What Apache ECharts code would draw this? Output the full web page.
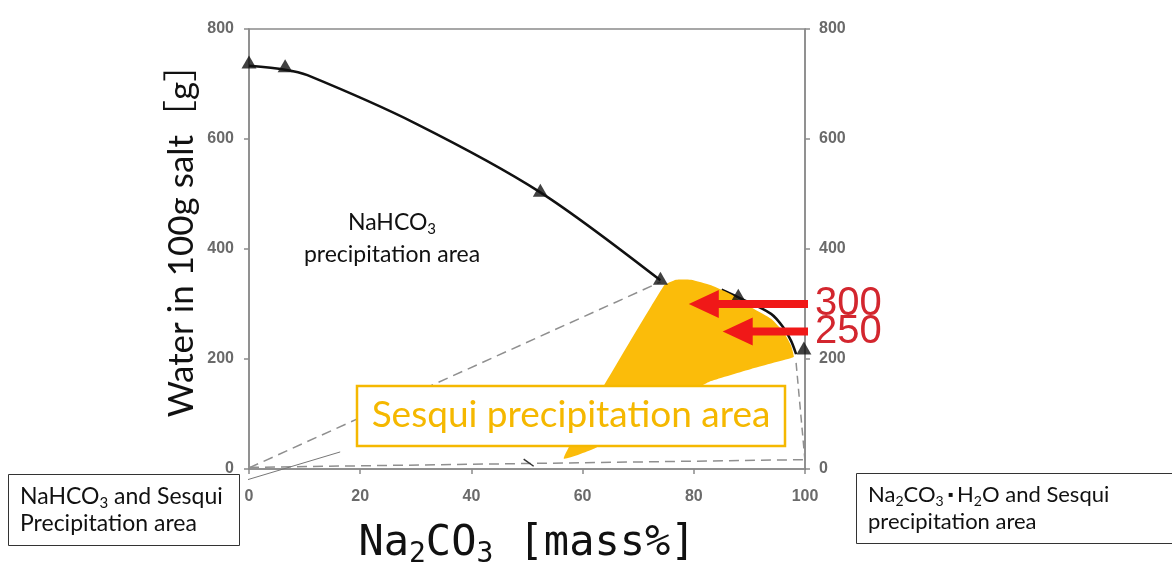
<!DOCTYPE html>
<html>
<head>
<meta charset="utf-8">
<script src="https://cdn.jsdelivr.net/npm/echarts@6/dist/echarts.min.js"></script>
<style>
html,body{margin:0;padding:0;background:#fff;}
#chart{width:1172px;height:570px;}
</style>
</head>
<body>
<div id="chart"></div>
<script>
// values: x = Na2CO3 mass%, y = water in 100g salt [g]
var xTicks = [0, 20, 40, 60, 80, 100];
var yTicks = [0, 200, 400, 600, 800];
// NaHCO3 saturation curve, split where it runs under the sesqui region
var curveUpper = [[0,733],[6.5,726],[10.5,716],[30,628],[52.4,503],[74,343]];
var curveLower = [[85,326],[88,312],[93.9,282],[96.2,256],[97.5,233],[98.4,209]];
var measuredPts = [[0,740],[6.5,733],[52.4,507],[74,347],[88,316],[99.8,220]];
var dashTop = [[0,2],[74,340]];
var dashBottom = [[0,3],[100,17]];
var dashRight = [[98.4,193],[100,15]];
var strayMark = [[49.4,18],[51.2,5]];
var leaderLeft = [[-1.1,-22],[16.4,31]];
var leaderRight = [[100,0],[109.2,-15]];
// sesqui (yellow) region outline
var sesquiArea = [[74.6,333],[76.8,344],[79.5,344],[83.1,334],[87,316],[88.5,304],[93.9,273],[96.2,248],[97.5,224],[98,204],
                  [97.5,202],[90.3,182],[83.1,160],[81.3,151],[70.5,91],[62.3,38],[56.6,20]];
// red arrows
var arrowStartX = [100, 100];
var arrowY = [300, 250];
var arrowTipX = [79.1, 85.2];
var arrowLabels = ['300', '250'];

var gray = '#8a8a8a';
var axisCommon = {
    axisLine:{show:true, lineStyle:{color:gray, width:1.5}},
    axisTick:{show:true, inside:false, length:5, lineStyle:{color:gray, width:1.5}},
    splitLine:{show:false},
    axisLabel:{color:'#6a6a6a', fontSize:16, fontWeight:'bold', fontFamily:'Liberation Sans', margin:12}
};
var txtFont = 'Lato, "Noto Sans CJK JP"';

var option = {
    animation:false,
    backgroundColor:'#fff',
    grid:{left:249, right:367, top:29, bottom:101, show:true, borderColor:gray, borderWidth:1.5,
          containLabel:false, outerBoundsMode:'none'},
    xAxis: $ext(axisCommon, {
        type:'value', min:0, max:100, interval:20,
        axisLabel:{margin:20},
        name:'{n|Na}{s|2}{n|CO}{s|3}{n| [mass%]}',
        nameLocation:'middle', nameGap:50,
        nameTextStyle:{
            rich:{
                n:{fontSize:42, fontFamily:'DejaVu Sans Mono', color:'#111'},
                s:{fontSize:28, fontFamily:'DejaVu Sans Mono', color:'#111', padding:[22,0,0,0]}
            }
        }
    }),
    yAxis: [
        $ext(axisCommon, {type:'value', position:'left', min:0, max:800, interval:200, axisLabel:{margin:15}}),
        $ext(axisCommon, {type:'value', position:'right', min:0, max:800, interval:200, axisLabel:{margin:14}})
    ],
    series: [
        {type:'line', data:dashTop, symbol:'none', z:2, lineStyle:{color:'#8f8f8f', width:1.5, type:[10,6]}},
        {type:'line', data:dashBottom, symbol:'none', z:2, lineStyle:{color:'#8f8f8f', width:1.5, type:[10,6]}},
        {type:'line', data:dashRight, symbol:'none', z:2, lineStyle:{color:'#8f8f8f', width:1.5, type:[8,5]}},
        {type:'line', data:strayMark, symbol:'none', z:2, lineStyle:{color:'#333', width:1.5}},
        {type:'line', data:leaderLeft, symbol:'none', clip:false, z:2, lineStyle:{color:'#777', width:1}},
        {type:'line', data:leaderRight, symbol:'none', clip:false, z:2, lineStyle:{color:'#777', width:1}},
        {type:'line', data:curveUpper, symbol:'none', smooth:0.3, z:3, lineStyle:{color:'#111', width:2.5}},
        {type:'line', data:curveLower, symbol:'none', smooth:0.3, z:3, lineStyle:{color:'#111', width:2.5}},
        {
            type:'custom', z:4, data:[[0]],
            renderItem:function(params, api){
                var pts = sesquiArea.map(function(p){ return api.coord(p); });
                return {type:'polygon', shape:{points:pts, smooth:0.15}, style:{fill:'#fbbc0a'}};
            }
        },
        {type:'scatter', data:measuredPts, symbol:'triangle', symbolSize:[15,13], z:5, itemStyle:{color:'#111'}},
        {
            type:'custom', z:6,
            data: arrowY.map(function(y, i){ return [arrowStartX[i], y, arrowTipX[i]]; }),
            renderItem:function(params, api){
                var y = api.value(1);
                var p0 = api.coord([api.value(0), y]);
                var p1 = api.coord([api.value(2), y]);
                var cy = p0[1], hl = 30, hw = 14, sw = 4;
                return {type:'group', children:[
                    {type:'polygon', shape:{points:[
                        [p0[0]+3, cy-sw],[p1[0]+hl, cy-sw],[p1[0]+hl, cy-hw],[p1[0], cy],
                        [p1[0]+hl, cy+hw],[p1[0]+hl, cy+sw],[p0[0]+3, cy+sw]]},
                     style:{fill:'#f01818'}},
                    {type:'text', x:p0[0]+10, y:cy, style:{text:arrowLabels[params.dataIndex],
                        fontSize:40, fontFamily:'Liberation Sans', fill:'#d3262e', verticalAlign:'middle'}}
                ]};
            }
        }
    ],
    graphic: [
        {type:'text', x:182, y:232, rotation:Math.PI/2, z:10,
         style:{text:'Water in 100g salt［g］', fontSize:35, fontFamily:txtFont, fill:'#111', align:'center', verticalAlign:'middle'}},
        {type:'text', x:392, y:239, z:10,
         style:{text:'{n|NaHCO}{s|3}\n{n|precipitation area}', align:'center', verticalAlign:'middle',
            rich:{n:{fontSize:23, fontFamily:txtFont, fill:'#111', lineHeight:32, align:'center'},
                  s:{fontSize:15, fontFamily:txtFont, fill:'#111', padding:[13,0,0,0]}}}},
        {type:'rect', z:10, shape:{x:357, y:386, width:428, height:60},
         style:{fill:'#fff', stroke:'#f5b800', lineWidth:2.5}},
        {type:'text', x:571, y:415, z:11,
         style:{text:'Sesqui precipitation area', fontSize:37, fontFamily:txtFont, fill:'#f5b800', align:'center', verticalAlign:'middle'}},
        {type:'rect', z:10, shape:{x:8.5, y:474.5, width:231, height:71},
         style:{fill:'#fff', stroke:'#333', lineWidth:1}},
        {type:'text', x:20, y:510, z:11,
         style:{text:'{n|NaHCO}{s|3}{n| and Sesqui}\n{n|Precipitation area}', verticalAlign:'middle',
            rich:{n:{fontSize:23, fontFamily:txtFont, fill:'#111', lineHeight:27},
                  s:{fontSize:15, fontFamily:txtFont, fill:'#111', padding:[13,0,0,0]}}}},
        {type:'rect', z:10, shape:{x:856.5, y:473.5, width:330, height:70},
         style:{fill:'#fff', stroke:'#333', lineWidth:1}},
        {type:'text', x:868, y:508, z:11,
         style:{text:'{n|Na}{s|2}{n|CO}{s|3}{d|▪}{n|H}{s|2}{n|O and Sesqui}\n{n|precipitation area}', verticalAlign:'middle',
            rich:{n:{fontSize:22, fontFamily:txtFont, fill:'#111', lineHeight:27},
                  s:{fontSize:14, fontFamily:txtFont, fill:'#111', padding:[13,0,0,0]},
                  d:{fontSize:8, fontFamily:'DejaVu Sans', fill:'#111', padding:[0,4,0,4]}}}}
    ]
};

function $ext(a, b){
    var out = JSON.parse(JSON.stringify(a));
    for (var k in b){
        if (b[k] && typeof b[k] === 'object' && !Array.isArray(b[k]) && out[k]) {
            for (var j in b[k]) out[k][j] = b[k][j];
        } else out[k] = b[k];
    }
    return out;
}

var chart = echarts.init(document.getElementById('chart'));
chart.setOption(option);
</script>
</body>
</html>
